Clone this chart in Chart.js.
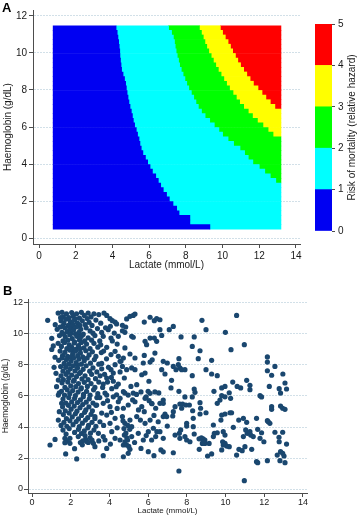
<!DOCTYPE html>
<html><head><meta charset="utf-8">
<script src="https://cdn.jsdelivr.net/npm/chart.js@4.4.0/dist/chart.umd.min.js"></script>
<style>
html,body{margin:0;padding:0;background:#fff;width:358px;height:517px;overflow:hidden;position:relative;}
canvas{position:absolute;}
</style></head><body>
<canvas id="cA" width="358" height="275" style="left:0;top:0;width:358px;height:275px"></canvas>
<canvas id="cBar" width="53" height="275" style="left:305px;top:0;width:53px;height:275px"></canvas>
<canvas id="cB" width="358" height="247" style="left:0;top:270px;width:358px;height:247px"></canvas>
<script>
// ---------- Panel A: risk surface (rows of haemoglobin, lactate cut points between hazard bands) ----------
const hbRows = [0.60,0.85,1.10,1.35,1.60,1.85,2.10,2.35,2.60,2.85,3.10,3.35,3.60,3.85,4.10,4.35,4.60,4.85,5.10,5.35,5.60,5.85,6.10,6.35,6.60,6.85,7.10,7.35,7.60,7.85,8.10,8.35,8.60,8.85,9.10,9.35,9.60,9.85,10.10,10.35,10.60,10.85,11.10,11.35];
const cutBlueCyan = [9.31,8.22,8.22,7.63,7.50,7.30,7.10,6.95,6.77,6.63,6.50,6.36,6.18,6.05,5.92,5.80,5.66,5.57,5.50,5.45,5.37,5.30,5.21,5.14,5.09,5.03,4.96,4.90,4.85,4.80,4.76,4.72,4.66,4.58,4.50,4.47,4.44,4.41,4.40,4.37,4.34,4.30,4.26,4.20];
const cutCyanGreen = [13.18,13.18,13.18,13.18,13.18,13.18,13.18,13.18,13.18,13.18,12.9,12.6,12.3,12.0,11.65,11.4,11.2,10.95,10.6,10.3,10.0,9.8,9.55,9.3,9.05,8.85,8.68,8.55,8.43,8.3,8.16,8.05,7.95,7.85,7.75,7.66,7.6,7.53,7.47,7.42,7.38,7.32,7.22,7.06];
const cutGreenYellow = [13.18,13.18,13.18,13.18,13.18,13.18,13.18,13.18,13.18,13.18,13.18,13.18,13.18,13.18,13.18,13.18,13.18,13.18,13.18,13.18,12.75,12.48,12.2,11.9,11.63,11.4,11.15,10.93,10.75,10.57,10.38,10.22,10.07,9.92,9.77,9.63,9.5,9.38,9.25,9.14,9.04,8.95,8.85,8.74];
const cutYellowRed = [13.18,13.18,13.18,13.18,13.18,13.18,13.18,13.18,13.18,13.18,13.18,13.18,13.18,13.18,13.18,13.18,13.18,13.18,13.18,13.18,13.18,13.18,13.18,13.18,13.18,13.18,12.85,12.6,12.36,12.15,11.93,11.68,11.5,11.32,11.15,10.98,10.83,10.7,10.55,10.43,10.3,10.15,10.0,9.88];
const gridLactateRange = [0.77, 13.18];
const riskLevels = [0,1,2,3,4,5];
const lactateTicks = [0,2,4,6,8,10,12,14];
const haemoglobinTicks = [0,2,4,6,8,10,12];

// ---------- Panel B: observed patients [lactate, haemoglobin] ----------
const patientsLactateBelow1_5 = [[0.81,10.88],[1.02,9.72],[1.10,9.23],[1.02,9.0],[1.19,8.5],[1.14,7.85],[1.24,7.46],[1.36,7.03],[1.27,6.6],[1.41,6.21],[1.36,6.06],[1.53,5.53],[1.41,4.99],[1.36,4.45],[1.19,3.2],[0.93,2.84],[1.74,2.26],[2.31,1.94]];
const patientsLactate1_5to3_5 = [
[1.35,11.35],[1.55,11.4],[1.62,11.1],[1.78,11.3],[1.9,11.05],[2.05,11.38],[2.12,11.15],[2.3,11.3],[2.45,11.02],[2.55,11.4],[2.7,11.2],[2.9,11.35],[3.05,11.1],[3.2,11.3],[3.45,11.25],[1.48,11.05],[2.22,10.98],[2.85,11.0],
[1.2,10.6],[1.5,10.85],[1.65,10.7],[1.75,10.95],[1.88,10.55],[1.98,10.8],[2.1,10.62],[2.2,10.9],[2.35,10.7],[2.48,10.55],[2.6,10.85],[2.75,10.6],[2.95,10.75],[3.1,10.55],[3.3,10.9],[3.55,10.7],[1.58,10.5],[2.05,10.5],
[1.3,10.3],[1.55,10.1],[1.7,10.4],[1.82,10.15],[1.95,10.35],[2.02,10.05],[2.15,10.25],[2.3,10.45],[2.42,10.1],[2.52,10.3],[2.65,10.0],[2.8,10.4],[3.0,10.2],[3.15,10.05],[3.38,10.35],[3.6,10.1],[1.45,10.45],[2.25,10.0],
[1.42,9.9],[1.6,9.55],[1.72,9.8],[1.85,9.6],[1.95,9.95],[2.08,9.7],[2.2,9.5],[2.32,9.85],[2.45,9.62],[2.6,9.92],[2.72,9.55],[2.9,9.75],[3.08,9.6],[3.25,9.9],[3.5,9.55],[1.65,9.98],[2.5,9.78],
[1.35,9.4],[1.52,9.2],[1.68,9.45],[1.8,9.05],[1.92,9.3],[2.05,9.15],[2.18,9.42],[2.28,9.02],[2.4,9.25],[2.55,9.45],[2.68,9.1],[2.82,9.35],[3.0,9.05],[3.2,9.4],[3.4,9.15],[2.1,9.0],[2.48,9.05],
[1.45,8.9],[1.58,8.6],[1.7,8.82],[1.84,8.55],[1.97,8.95],[2.1,8.7],[2.25,8.9],[2.36,8.6],[2.5,8.78],[2.62,8.52],[2.78,8.92],[2.95,8.65],[3.12,8.85],[3.3,8.55],[3.58,8.8],[2.02,8.5],
[1.38,8.3],[1.55,8.45],[1.66,8.1],[1.78,8.35],[1.9,8.05],[2.02,8.25],[2.15,8.45],[2.28,8.15],[2.42,8.38],[2.55,8.05],[2.7,8.28],[2.85,8.45],[3.02,8.12],[3.22,8.35],[3.45,8.05],[2.35,8.0],
[1.48,7.9],[1.6,7.6],[1.74,7.85],[1.86,7.55],[1.98,7.75],[2.12,7.95],[2.22,7.62],[2.35,7.8],[2.5,7.52],[2.64,7.72],[2.8,7.95],[2.98,7.6],[3.15,7.82],[3.35,7.55],[3.6,7.75],
[1.5,7.3],[1.62,7.05],[1.76,7.4],[1.9,7.15],[2.05,7.35],[2.18,7.02],[2.3,7.25],[2.44,7.45],[2.58,7.1],[2.74,7.3],[2.9,7.05],[3.08,7.4],[3.28,7.12],[3.52,7.3],
[1.55,6.85],[1.7,6.55],[1.85,6.9],[2.0,6.65],[2.14,6.95],[2.26,6.6],[2.4,6.8],[2.55,6.52],[2.7,6.88],[2.86,6.62],[3.05,6.8],[3.25,6.55],[3.45,6.9],
[1.52,6.3],[1.68,6.05],[1.82,6.4],[1.95,6.15],[2.1,6.35],[2.24,6.02],[2.38,6.25],[2.52,6.45],[2.66,6.1],[2.82,6.3],[3.0,6.05],[3.18,6.4],[3.4,6.15],
[1.6,5.8],[1.75,5.55],[1.9,5.9],[2.05,5.62],[2.2,5.85],[2.35,5.58],[2.5,5.75],[2.65,5.95],[2.8,5.6],[2.96,5.82],[3.15,5.55],[3.35,5.9],
[1.58,5.3],[1.72,5.05],[1.88,5.4],[2.02,5.15],[2.18,5.35],[2.32,5.02],[2.48,5.25],[2.62,5.45],[2.78,5.1],[2.94,5.3],[3.12,5.05],[3.3,5.4],
[1.62,4.8],[1.78,4.55],[1.92,4.9],[2.08,4.65],[2.24,4.85],[2.4,4.52],[2.56,4.75],[2.72,4.95],[2.88,4.6],[3.05,4.82],[3.25,4.55],
[1.5,4.1],[1.65,4.3],[1.8,4.05],[1.96,4.4],[2.12,4.15],[2.28,4.35],[2.44,4.02],[2.6,4.25],[2.76,4.45],[2.92,4.1],[3.1,4.3],[3.3,4.05],
[1.6,3.8],[1.76,3.55],[1.92,3.9],[2.2,3.65],[2.4,3.85],[2.55,3.58],[2.7,3.75],[2.88,3.95],[3.02,3.6],[3.2,3.8],
[1.7,3.27],[1.96,3.27],[2.39,3.38],[2.74,3.45],[2.77,3.2],[2.62,3.1],[2.85,3.05],[3.0,3.3],[1.82,3.1],[2.5,3.0],[3.1,3.15],
[1.7,2.99],[1.96,2.95],[2.91,3.0],[3.17,2.95],[3.25,2.73],[2.6,2.85],[2.2,2.6]];
const patientsLactate3_5to6_5 = [
[3.72,11.35],[3.86,11.2],[4.03,10.99],[4.15,10.86],[4.29,10.77],[4.37,10.65],[4.67,10.56],[4.84,10.45],[4.89,10.97],[5.06,11.14],[5.23,11.2],[5.32,11.29],[5.80,10.77],[6.10,11.08],[6.32,10.86],[6.44,10.99],
[3.94,10.28],[4.25,10.06],[4.67,10.21],[4.80,10.11],[3.68,9.85],[4.08,9.74],[4.46,9.85],[5.15,9.85],[5.23,9.79],[5.84,9.53],[6.10,9.74],[6.32,9.74],[6.44,9.53],[5.92,9.31],
[4.80,9.10],[4.29,8.88],[3.86,9.14],[4.08,8.67],[4.46,8.56],[4.72,8.45],[4.55,8.24],[5.32,8.45],[5.06,8.71],[5.80,8.62],[6.21,8.34],[6.10,8.19],[6.35,8.77],[5.75,8.13],
[4.29,8.02],[4.67,7.91],[4.89,7.70],[5.15,7.81],[5.32,7.70],[5.67,7.37],[5.84,7.48],[4.08,7.70],[4.20,7.48],
[3.86,7.16],[4.20,6.95],[4.46,6.77],[3.68,6.77],[4.77,7.16],[5.11,6.62],[5.41,6.73],
[5.63,6.26],[6.04,6.95],[6.35,6.26],[4.80,6.19],[5.23,6.19],[4.12,6.47],[4.37,6.08],[3.77,6.19],
[3.55,9.3],[3.7,8.9],[3.85,8.4],[3.6,8.1],[3.95,7.85],[3.75,7.4],[4.1,7.2],[3.9,6.9],[4.35,6.6],[3.65,6.55],[4.15,9.55],[4.4,9.35],[4.55,7.55],[4.6,8.25],[3.8,10.4],[4.05,10.5],
[3.86,6.06],[4.72,6.28],[4.97,6.06],[5.4,6.1],[5.84,5.85],[6.10,6.17],[6.55,6.2],[6.78,5.74],
[3.34,5.42],[3.68,5.53],[4.03,5.31],[4.46,5.63],[4.72,5.21],[4.97,5.42],[5.32,5.63],[5.67,5.31],[5.80,4.99],[6.18,5.53],[6.39,5.21],
[3.25,4.67],[3.51,4.34],[3.86,4.77],[4.03,4.24],[4.29,4.56],[4.67,4.67],[4.80,4.24],[5.06,4.45],[5.15,4.02],[5.41,4.67],[5.84,4.24],[6.10,4.45],[6.27,3.92],[6.52,4.34],
[3.43,3.59],[3.68,3.38],[4.12,3.70],[4.55,3.16],[4.77,3.48],[4.94,3.16],[5.15,3.38],[5.49,3.59],[5.75,3.16],[6.01,3.70],[6.18,3.16],[6.39,3.38],
[3.68,2.15],[4.72,2.08],[4.97,2.30],[5.06,2.56],[5.63,2.62],[6.01,2.41],[6.30,2.15],[6.66,2.52],[4.72,2.84],[4.89,2.84],[3.86,2.62],[4.29,3.27],[3.77,3.16],
[4.75,3.9],[4.85,3.6],[4.9,3.3],[4.8,3.05],[5.0,2.75],[4.95,4.1],[5.05,3.85],[4.7,4.4],[5.9,5.95],[6.05,5.7],[6.2,5.5],[6.0,6.3],
[3.5,5.9],[3.9,5.7],[4.2,5.95],[4.55,5.85],[4.4,5.2],[4.1,4.95],[3.6,4.9],[5.5,5.1],[5.6,4.45],[6.3,4.75],[5.2,5.75],[3.7,4.1],[4.4,3.95],[5.3,3.0],[5.9,3.45],[6.45,3.7],[3.45,3.1],[4.05,2.9]];
const patientsLactateAbove6_5 = [
[6.61,10.92],[6.61,10.28],[6.70,9.91],[7.09,10.28],[7.30,10.49],[7.70,9.81],[8.78,10.88],[8.99,10.28],[10.57,11.20],[9.99,10.11],[8.28,9.20],[8.38,9.81],[8.68,8.92],[10.28,8.99],[10.97,9.31],[8.59,8.41],[9.28,8.30],[7.59,8.41],[6.78,8.24],[6.99,8.13],[6.70,7.70],[6.87,7.42],[7.30,7.91],[7.56,8.02],[7.64,7.81],[7.73,7.70],[7.90,7.70],[7.44,7.70],[8.99,7.70],[9.28,7.42],[9.57,7.31],[8.28,7.31],[7.21,7.01],[7.18,6.52],[7.59,6.30],[8.38,6.45],[8.42,6.24],[9.40,6.30],[9.80,6.52],[9.97,6.62],[10.19,6.21],[10.37,6.90],[10.60,6.62],[10.78,6.52],[11.09,7.01],[11.26,6.69],[11.26,6.41],[12.16,8.52],[12.16,8.19],[12.16,7.63],[12.38,7.34],[12.55,7.91],[12.96,7.42],[13.07,6.84],[13.15,6.45],[12.77,6.47],[12.84,6.19],[12.26,6.62],[7.90,5.94],[8.28,5.94],[9.80,6.02],[11.78,6.02],[11.86,5.94],
[6.61,5.53],[6.78,5.53],[7.64,5.48],[7.78,5.48],[7.95,5.42],[8.13,5.42],[7.39,5.31],[7.73,5.21],[7.30,4.99],[6.87,4.84],[6.96,4.67],[6.78,4.67],[7.27,4.71],[8.30,5.05],[8.68,5.57],[8.71,5.21],[8.68,4.84],[8.99,4.92],[8.33,4.56],[7.99,4.24],[8.33,4.02],[7.99,4.06],[6.99,4.06],[6.61,3.70],[6.78,3.27],[7.39,3.48],[7.61,3.59],[7.68,3.81],[7.64,3.27],[7.90,3.38],[7.99,3.16],[8.16,3.05],[8.38,3.55],[8.63,3.24],[8.75,3.30],[8.84,3.24],[8.93,3.16],[8.80,2.94],[8.93,2.94],[9.15,2.94],[8.84,3.05],[8.64,2.56],[9.07,2.13],[9.28,2.26],[9.57,3.63],[9.88,3.70],[9.97,3.48],[9.37,4.13],[9.42,3.59],[9.37,3.38],[9.80,4.77],[9.76,4.45],[9.97,4.84],[10.23,4.92],[10.31,4.92],[9.57,5.53],[9.71,5.74],[9.97,5.95],[10.26,5.85],[10.40,3.98],[9.85,3.05],[9.97,2.95],[10.06,2.77],[10.19,2.73],[9.88,2.84],[9.80,2.52],[10.57,2.19],[10.69,2.56],[10.86,2.47],[10.68,4.45],[10.92,4.56],[11.09,4.30],[11.04,3.81],[11.12,3.59],[10.92,3.38],[11.26,3.70],[11.30,3.48],[11.43,3.38],[11.00,2.73],[11.35,2.56],[10.97,0.54],[11.60,4.56],[11.66,3.85],[11.86,3.63],[11.78,3.27],[11.98,3.05],[11.60,1.76],[11.66,1.70],[12.16,1.83],[12.21,4.34],[12.29,4.24],[12.16,4.41],[12.38,5.31],[12.38,5.14],[12.84,5.35],[12.95,5.21],[13.07,5.14],[12.55,3.66],[12.76,3.34],[12.77,3.05],[12.95,3.66],[13.15,2.90],[12.67,2.19],[12.84,2.41],[12.95,2.30],[13.02,2.13],[13.07,1.70],[12.81,1.83],[7.59,1.16],[7.30,2.34],[6.78,2.4]];

// ---------- styles ----------
const FONT = "'Liberation Sans', Arial, Helvetica, sans-serif";
Chart.defaults.font.family = FONT;
const riskColors = ['#0000f2','#00ffff','#00ff00','#ffff00','#ff0000'];
const axisColor = '#4d4d4d', textColor = '#1a1a1a', gridColor = '#d2e0e8';

function letterPlugin(txt, x, y) {
  return { id: 'letter' + txt, afterDraw(chart) {
    const c = chart.ctx; c.save();
    c.font = 'bold 13px ' + FONT; c.fillStyle = '#000'; c.textBaseline = 'alphabetic';
    c.fillText(txt, x, y); c.restore();
  }};
}
function fixedTicks(values) { return s => { s.ticks = values.map(v => ({ value: v })); }; }

// ---------- Chart A ----------
const cuts = hbRows.map((h, i) => [gridLactateRange[0], cutBlueCyan[i], cutCyanGreen[i], cutGreenYellow[i], cutYellowRed[i], gridLactateRange[1]]);
const heatDatasets = riskColors.map((col, k) => ({
  data: hbRows.map((h, i) => ({ y: h, x: [cuts[i][k], cuts[i][k + 1]] })).filter(d => d.x[1] > d.x[0]),
  backgroundColor: col, borderWidth: 0, grouped: false,
  categoryPercentage: 1, barPercentage: 1
}));

new Chart(document.getElementById('cA'), {
  type: 'bar',
  data: { datasets: heatDatasets },
  options: {
    indexAxis: 'y', responsive: false, animation: false, devicePixelRatio: 1,
    layout: { padding: { top: 10, right: 58, bottom: 0, left: 0 } },
    plugins: { legend: { display: false }, tooltip: { enabled: false } },
    scales: {
      x: { type: 'linear', position: 'bottom', min: -0.327, max: 14.218, bounds: 'data', offset: false,
        afterBuildTicks: fixedTicks(lactateTicks), afterFit: s => { s.height = 31; },
        grid: { display: true, drawOnChartArea: false, drawTicks: true, tickLength: 4, tickColor: axisColor, offset: false },
        border: { display: true, color: axisColor, width: 1 },
        ticks: { color: textColor, font: { size: 10 }, padding: 2, maxRotation: 0, autoSkip: false },
        title: { display: true, text: 'Lactate (mmol/L)', color: textColor, font: { size: 10 }, padding: { top: 0, bottom: 3.5 } } },
      y: { type: 'linear', position: 'left', min: -0.324, max: 12.324, bounds: 'data', offset: false,
        afterBuildTicks: fixedTicks(haemoglobinTicks), afterFit: s => { s.width = 33; },
        grid: { display: true, drawOnChartArea: true, color: gridColor, lineWidth: 1, drawTicks: true, tickLength: 4, tickColor: axisColor, offset: false },
        border: { display: true, color: axisColor, width: 1, dash: [2, 1] },
        ticks: { color: textColor, font: { size: 10 }, padding: 2, autoSkip: false },
        title: { display: true, text: 'Haemoglobin (g/dL)', color: textColor, font: { size: 10 }, padding: { top: 2, bottom: 0 } } }
    }
  },
  plugins: [letterPlugin('A', 2, 12)]
});

// ---------- colour bar ----------
new Chart(document.getElementById('cBar'), {
  type: 'bar',
  data: { labels: [''], datasets: riskColors.map((col, k) => ({
    data: [[riskLevels[k], riskLevels[k + 1]]], backgroundColor: col, borderWidth: 0,
    grouped: false, categoryPercentage: 1, barPercentage: 1 })) },
  options: {
    responsive: false, animation: false, devicePixelRatio: 1,
    layout: { padding: { top: 24, right: 0, bottom: 44, left: 10 } },
    plugins: { legend: { display: false }, tooltip: { enabled: false } },
    scales: {
      x: { display: false },
      y: { type: 'linear', position: 'right', min: 0, max: 5, bounds: 'data',
        afterBuildTicks: fixedTicks(riskLevels), afterFit: s => { s.width = 26; },
        grid: { display: true, drawOnChartArea: false, drawTicks: true, tickLength: 3, tickColor: axisColor },
        border: { display: false },
        ticks: { color: textColor, font: { size: 10 }, padding: 3, autoSkip: false } }
    }
  },
  plugins: [{ id: 'cbTitle', afterDraw(chart) {
    const c = chart.ctx; c.save();
    c.translate(47.5, 127.5); c.rotate(-Math.PI / 2);
    c.font = '10px ' + FONT; c.fillStyle = textColor; c.textAlign = 'center'; c.textBaseline = 'middle';
    c.fillText('Risk of mortality (relative hazard)', 0, 0); c.restore();
  }}]
});

// ---------- Chart B ----------
const allPatients = [].concat(patientsLactateBelow1_5, patientsLactate1_5to3_5, patientsLactate3_5to6_5, patientsLactateAbove6_5);
new Chart(document.getElementById('cB'), {
  type: 'scatter',
  data: { datasets: [{ data: allPatients.map(p => ({ x: p[0], y: p[1] })),
    pointRadius: 2.6, pointBackgroundColor: '#1a476f', pointBorderWidth: 0, pointHoverRadius: 2.6 }] },
  options: {
    responsive: false, animation: false, devicePixelRatio: 1,
    layout: { padding: { top: 29, right: 51, bottom: 0, left: 0 } },
    plugins: { legend: { display: false }, tooltip: { enabled: false } },
    scales: {
      x: { type: 'linear', position: 'bottom', min: -0.207, max: 14.207, bounds: 'data',
        afterBuildTicks: fixedTicks(lactateTicks), afterFit: s => { s.height = 24; },
        grid: { display: true, drawOnChartArea: false, drawTicks: true, tickLength: 4, tickColor: axisColor },
        border: { display: true, color: axisColor, width: 1 },
        ticks: { color: textColor, font: { size: 9 }, padding: 0.3, maxRotation: 0, autoSkip: false },
        title: { display: true, text: 'Lactate (mmol/L)', color: textColor, font: { size: 8 }, padding: { top: 0, bottom: 1.5 } } },
      y: { type: 'linear', position: 'left', min: -0.258, max: 12.258, bounds: 'data',
        afterBuildTicks: fixedTicks(haemoglobinTicks), afterFit: s => { s.width = 28; },
        grid: { display: true, drawOnChartArea: true, color: gridColor, lineWidth: 1, drawTicks: true, tickLength: 4, tickColor: axisColor },
        border: { display: true, color: axisColor, width: 1, dash: [2, 1] },
        ticks: { color: textColor, font: { size: 9 }, padding: 1, autoSkip: false },
        title: { display: true, text: 'Haemoglobin (g/dL)', color: textColor, font: { size: 8.5 }, padding: { top: 1, bottom: 0 } } }
    }
  },
  plugins: [letterPlugin('B', 3, 25)]
});
</script>
</body></html>
